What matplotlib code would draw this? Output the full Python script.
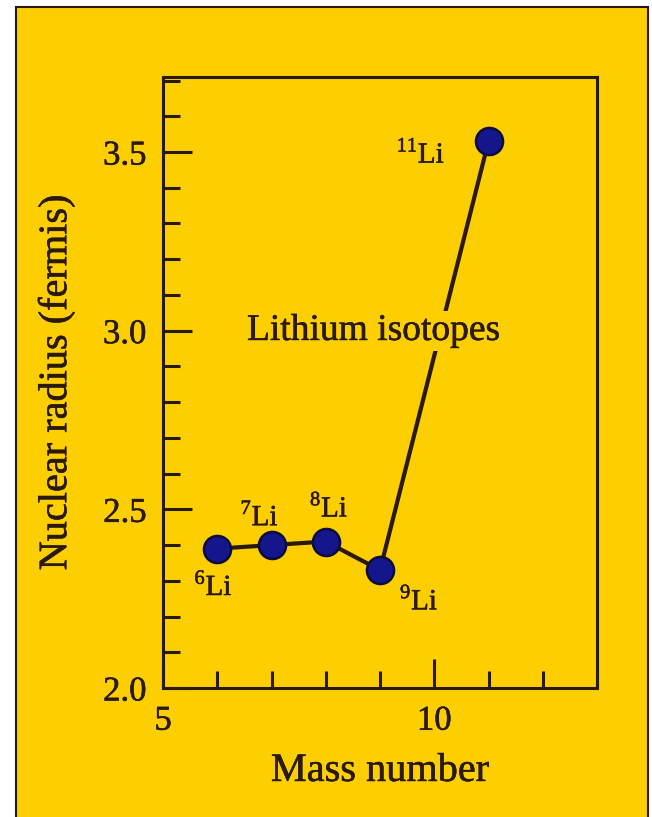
import matplotlib
matplotlib.use("Agg")
import matplotlib.pyplot as plt
import matplotlib.patheffects as pe
from matplotlib.patches import Rectangle
from matplotlib.ticker import MultipleLocator

# data
mass = [6, 7, 8, 9, 11]
radius = [2.39, 2.40, 2.41, 2.33, 3.53]
iso_labels = [r"$^{6}$Li", r"$^{7}$Li", r"$^{8}$Li", r"$^{9}$Li", r"$^{11}$Li"]
label_xy = [(5.93, 2.26), (6.78, 2.455), (8.06, 2.48), (9.72, 2.22), (10.2, 3.47)]
label_ha = ["center", "center", "center", "center", "right"]

yellow = "#fdcf00"
ink = "#2a1a0c"
# scanned text looks a bit heavier than plain Times
heavy = [pe.withStroke(linewidth=0.4, foreground=ink)]

plt.rcParams["font.family"] = ["Liberation Serif", "DejaVu Serif"]
plt.rcParams["mathtext.fontset"] = "custom"
plt.rcParams["mathtext.rm"] = "Liberation Serif"

fig = plt.figure(figsize=(6.52, 8.17), dpi=100)
fig.patch.set_facecolor("white")
# yellow panel with a thin dark frame
fig.patches.append(Rectangle((16 / 652, -0.01), 632 / 652, 1 - 7 / 817 + 0.01,
                             transform=fig.transFigure, facecolor=yellow,
                             edgecolor=ink, lw=1.5, zorder=-10))

ax = fig.add_axes([163 / 652, 129 / 817, 434 / 652, 611 / 817])
ax.set_facecolor(yellow)

ax.plot(mass, radius, color=ink, lw=3, zorder=2)
ax.plot(mass, radius, "o", ms=19.5, color="#16168c", mec="#0c0c3a", mew=1.8, zorder=3)

for lab, (lx, ly), ha in zip(iso_labels, label_xy, label_ha):
    ax.text(lx, ly, lab, ha=ha, va="baseline", fontsize=21, color=ink, zorder=4,
            path_effects=heavy)

ax.text(8.88, 3.0, "Lithium isotopes", ha="center", va="center", fontsize=27,
        color=ink, zorder=4, path_effects=heavy,
        bbox=dict(facecolor=yellow, edgecolor="none", pad=2))

ax.set_xlim(5, 13)
ax.set_ylim(2.0, 3.71)
ax.xaxis.set_major_locator(MultipleLocator(5))
ax.xaxis.set_minor_locator(MultipleLocator(1))
ax.yaxis.set_major_locator(MultipleLocator(0.5))
ax.yaxis.set_minor_locator(MultipleLocator(0.1))
ax.yaxis.set_major_formatter(plt.FormatStrFormatter("%.1f"))

ax.tick_params(which="both", direction="in", color=ink, labelcolor=ink,
               top=False, right=False, labelsize=25)
ax.tick_params(which="major", length=21, width=2.2, pad=12)
ax.tick_params(which="minor", length=12, width=2.2)
for s in ax.spines.values():
    s.set_color(ink)
    s.set_linewidth(2.2)

ax.set_xlabel("Mass number", fontsize=29, color=ink, labelpad=11,
              path_effects=heavy)
ax.set_ylabel("Nuclear radius (fermis)", fontsize=29, color=ink, labelpad=20,
              path_effects=heavy)
for t in ax.get_xticklabels() + ax.get_yticklabels():
    t.set_path_effects(heavy)

fig.savefig("out.png", dpi=100)
